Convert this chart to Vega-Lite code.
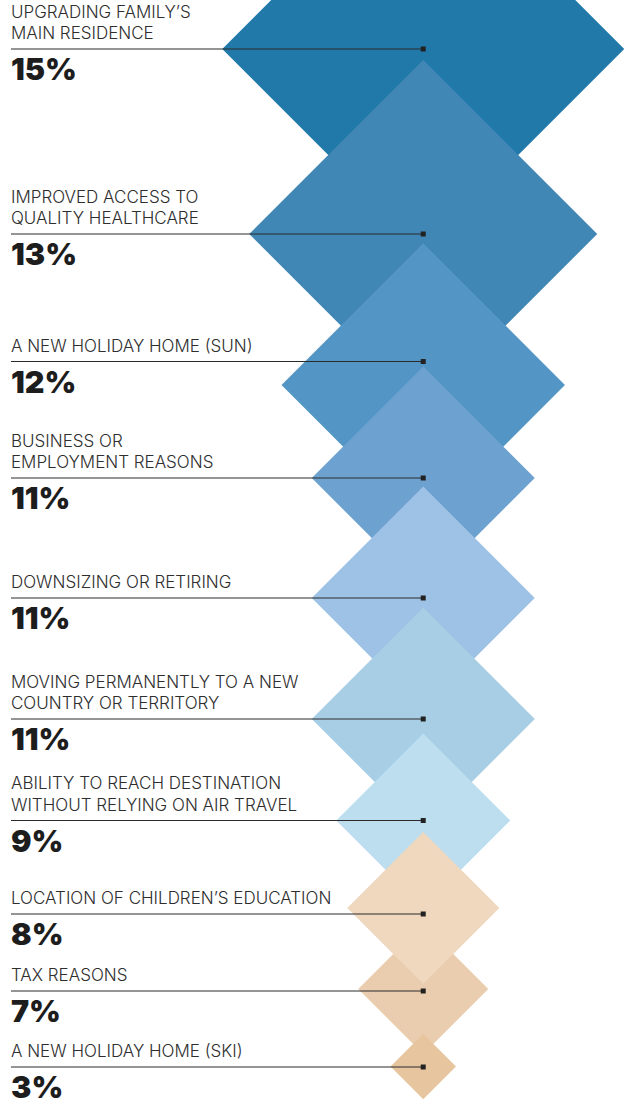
{
  "$schema": "https://vega.github.io/schema/vega-lite/v6.json",
  "width": 627,
  "height": 1104,
  "padding": 0,
  "autosize": {"type": "none"},
  "background": "#ffffff",
  "config": {"view": {"stroke": null}},
  "data": {
    "values": [
      {"rank": 1, "label_top": "UPGRADING FAMILY’S", "label_bottom": "MAIN RESIDENCE", "share": 0.15},
      {"rank": 2, "label_top": "IMPROVED ACCESS TO", "label_bottom": "QUALITY HEALTHCARE", "share": 0.13},
      {"rank": 3, "label_top": "", "label_bottom": "A NEW HOLIDAY HOME (SUN)", "share": 0.12},
      {"rank": 4, "label_top": "BUSINESS OR", "label_bottom": "EMPLOYMENT REASONS", "share": 0.11},
      {"rank": 5, "label_top": "", "label_bottom": "DOWNSIZING OR RETIRING", "share": 0.11},
      {"rank": 6, "label_top": "MOVING PERMANENTLY TO A NEW", "label_bottom": "COUNTRY OR TERRITORY", "share": 0.11},
      {"rank": 7, "label_top": "ABILITY TO REACH DESTINATION", "label_bottom": "WITHOUT RELYING ON AIR TRAVEL", "share": 0.09},
      {"rank": 9, "label_top": "", "label_bottom": "TAX REASONS", "share": 0.07},
      {"rank": 8, "label_top": "", "label_bottom": "LOCATION OF CHILDREN’S EDUCATION", "share": 0.08},
      {"rank": 10, "label_top": "", "label_bottom": "A NEW HOLIDAY HOME (SKI)", "share": 0.03}
    ]
  },
  "layer": [
    {
      "mark": {"type": "point", "shape": "diamond", "filled": true, "opacity": 1, "strokeWidth": 0},
      "encoding": {
        "x": {"datum": 67.5, "type": "quantitative", "scale": {"domain": [0, 100], "range": [0, 627], "nice": false, "zero": false}, "axis": null},
        "y": {"field": "rank", "type": "quantitative", "axis": null,
              "scale": {"domain": [1, 2, 3, 4, 5, 6, 7, 8, 9, 10], "range": [49, 234, 385, 478, 598, 719, 820.5, 908, 989, 1066.5], "nice": false, "zero": false}},
        "size": {"field": "share", "type": "quantitative", "legend": null,
                 "scale": {"domain": [0.03, 0.07, 0.08, 0.09, 0.11, 0.12, 0.13, 0.15], "range": [4277, 16900, 23104, 30276, 49729, 80315, 121104, 161604], "nice": false, "zero": false}},
        "color": {"field": "rank", "type": "ordinal", "legend": null,
                  "scale": {"domain": [1, 2, 3, 4, 5, 6, 7, 8, 9, 10], "range": ["#2079A9", "#4187B6", "#5395C4", "#6DA2D0", "#9DC2E6", "#A8CEE5", "#BDDEEF", "#EFD8BE", "#EACDAE", "#E6C59F"]}}
      }
    },
    {
      "layer": [
        {
          "mark": {"type": "rule", "color": "#2a2a2a", "strokeWidth": 1},
          "encoding": {
            "x": {"datum": 1.75, "type": "quantitative", "axis": null},
            "x2": {"datum": 67.5},
            "y": {"field": "rank", "type": "quantitative", "axis": null,
                  "scale": {"domain": [1, 2, 3, 4, 5, 6, 7, 8, 9, 10], "range": [49, 234, 361.5, 478, 598, 719, 820.5, 914, 991, 1067], "nice": false, "zero": false}}
          }
        },
        {
          "mark": {"type": "point", "shape": "square", "filled": true, "color": "#222222", "size": 25, "opacity": 1, "strokeWidth": 0},
          "encoding": {
            "x": {"datum": 67.5, "type": "quantitative", "axis": null},
            "y": {"field": "rank", "type": "quantitative", "axis": null}
          }
        },
        {
          "mark": {"type": "text", "align": "left", "baseline": "alphabetic", "dy": -10, "font": "Inter", "fontSize": 17, "fontWeight": 300, "color": "#2e2e2e"},
          "encoding": {
            "x": {"datum": 1.75, "type": "quantitative", "axis": null},
            "y": {"field": "rank", "type": "quantitative", "axis": null},
            "text": {"field": "label_bottom"}
          }
        },
        {
          "mark": {"type": "text", "align": "left", "baseline": "alphabetic", "dy": -31.5, "font": "Inter", "fontSize": 17, "fontWeight": 300, "color": "#2e2e2e"},
          "encoding": {
            "x": {"datum": 1.75, "type": "quantitative", "axis": null},
            "y": {"field": "rank", "type": "quantitative", "axis": null},
            "text": {"field": "label_top"}
          }
        },
        {
          "mark": {"type": "text", "align": "left", "baseline": "alphabetic", "dy": 31, "font": "Inter", "fontSize": 30.5, "fontWeight": 900, "color": "#1d1d1d"},
          "encoding": {
            "x": {"datum": 1.75, "type": "quantitative", "axis": null},
            "y": {"field": "rank", "type": "quantitative", "axis": null},
            "text": {"field": "share", "type": "quantitative", "format": ".0%"}
          }
        }
      ]
    }
  ],
  "resolve": {"scale": {"y": "independent"}}
}
